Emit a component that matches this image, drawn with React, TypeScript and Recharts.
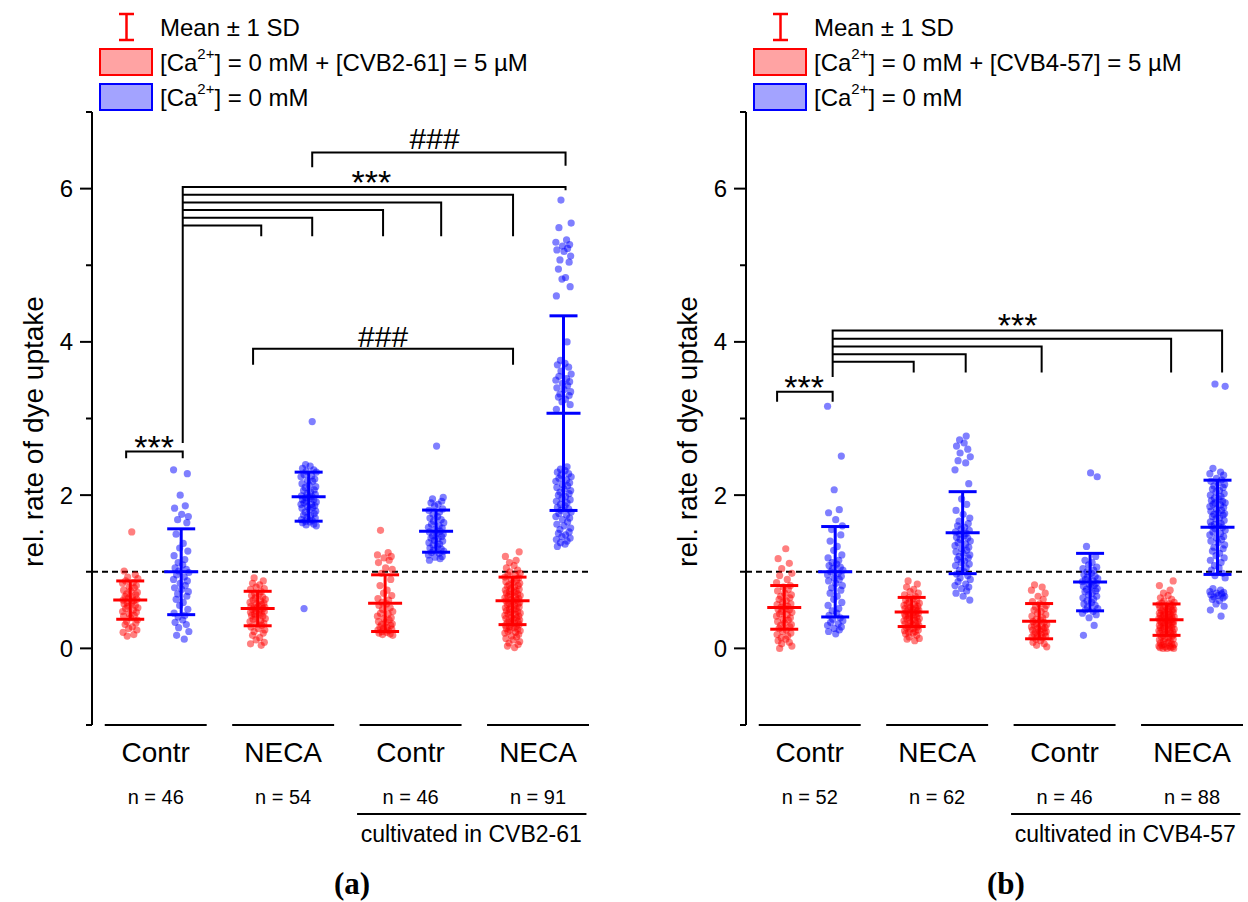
import React from 'react';
import {
  ErrorBar,
  Legend,
  ReferenceDot,
  ReferenceLine,
  Scatter,
  ScatterChart,
  XAxis,
  YAxis,
} from 'recharts';

const SANS = '"Liberation Sans", Arial, sans-serif';
const SERIF = '"Liberation Serif", "Times New Roman", serif';
const RED = '#ff0000';
const BLUE = '#0000ff';

// x position of each column: red / blue for every group
const X_POS = [1, 2, 3.5, 4.5, 6, 7, 8.5, 9.5];
const GROUP_CENTERS = [1.5, 4, 6.5, 9];
const GROUP_LABELS = ['Contr', 'NECA', 'Contr', 'NECA'];
const GROUP_SPANS = [[0.5, 2.5], [3, 5], [5.5, 7.5], [8, 10]];
const Y_TICKS = [-1, 0, 1, 2, 3, 4, 5, 6, 7];
// horizontal scatter of the single cells inside a column
const JITTER = [0.03, -0.12, 0.1, -0.05, 0.15, -0.09, 0.06, -0.15, 0.12, -0.02, 0.08, -0.13,
  0.01, 0.14, -0.07, 0.11, -0.1, 0.04, -0.03, 0.13, -0.14, 0.07, -0.06];

// ---- panel (a): CVB2-61
const A_N = [46, 54, 46, 91];
const A_MEAN = [0.63, 1.0, 0.52, 1.98, 0.59, 1.53, 0.62, 3.07];
const A_SD = [0.25, 0.56, 0.225, 0.32, 0.37, 0.275, 0.31, 1.27];

const A_CONTR_RED = [1.52, 1.01, 0.96, 0.93, 0.91, 0.88, 0.86, 0.85, 0.82, 0.8, 0.79, 0.76, 0.75, 0.73,
  0.71, 0.7, 0.68, 0.67, 0.66, 0.64, 0.63, 0.62, 0.6, 0.59, 0.58, 0.56, 0.55, 0.53, 0.52, 0.5, 0.48,
  0.47, 0.45, 0.43, 0.42, 0.4, 0.37, 0.35, 0.33, 0.31, 0.28, 0.26, 0.24, 0.21, 0.18, 0.16];
const A_CONTR_BLUE = [2.33, 2.28, 2.0, 1.86, 1.83, 1.75, 1.72, 1.68, 1.64, 1.49, 1.37, 1.31, 1.27, 1.21,
  1.16, 1.12, 1.09, 1.05, 1.03, 1.01, 0.99, 0.96, 0.93, 0.9, 0.88, 0.85, 0.82, 0.79, 0.77, 0.74, 0.71,
  0.68, 0.64, 0.6, 0.56, 0.51, 0.46, 0.43, 0.41, 0.37, 0.34, 0.31, 0.27, 0.22, 0.17, 0.12];
const A_NECA_RED = [0.92, 0.88, 0.85, 0.83, 0.8, 0.78, 0.77, 0.74, 0.72, 0.71, 0.69, 0.67, 0.66, 0.64,
  0.63, 0.62, 0.6, 0.59, 0.58, 0.57, 0.55, 0.55, 0.54, 0.53, 0.52, 0.51, 0.5, 0.49, 0.48, 0.47, 0.46,
  0.45, 0.44, 0.43, 0.42, 0.41, 0.39, 0.38, 0.36, 0.35, 0.33, 0.32, 0.3, 0.28, 0.26, 0.24, 0.22, 0.2,
  0.17, 0.14, 0.11, 0.08, 0.06, 0.04];
const A_NECA_BLUE = [2.96, 2.4, 2.38, 2.35, 2.33, 2.31, 2.3, 2.27, 2.25, 2.24, 2.21, 2.19, 2.18, 2.15,
  2.13, 2.11, 2.1, 2.07, 2.06, 2.04, 2.02, 2.01, 1.99, 1.98, 1.97, 1.96, 1.94, 1.94, 1.92, 1.91, 1.9,
  1.88, 1.88, 1.86, 1.85, 1.84, 1.83, 1.81, 1.79, 1.78, 1.76, 1.74, 1.73, 1.71, 1.7, 1.68, 1.67, 1.66,
  1.65, 1.64, 1.62, 1.61, 1.6, 0.52];
const A_CV_CONTR_RED = [1.54, 1.25, 1.22, 1.2, 1.18, 1.15, 1.12, 1.05, 1.03, 0.98, 0.9, 0.82, 0.76,
  0.72, 0.69, 0.65, 0.63, 0.6, 0.58, 0.56, 0.53, 0.51, 0.48, 0.46, 0.45, 0.42, 0.4, 0.39, 0.37, 0.35,
  0.34, 0.32, 0.31, 0.3, 0.28, 0.27, 0.26, 0.25, 0.24, 0.23, 0.22, 0.21, 0.2, 0.19, 0.18, 0.17];
const A_CV_CONTR_BLUE = [2.64, 1.97, 1.95, 1.92, 1.9, 1.88, 1.86, 1.82, 1.8, 1.78, 1.75, 1.72, 1.7,
  1.68, 1.66, 1.64, 1.62, 1.6, 1.58, 1.57, 1.55, 1.53, 1.52, 1.5, 1.49, 1.47, 1.46, 1.44, 1.43, 1.41,
  1.4, 1.38, 1.36, 1.35, 1.33, 1.31, 1.3, 1.28, 1.27, 1.25, 1.24, 1.22, 1.2, 1.19, 1.17, 1.15];
const A_CV_NECA_RED = [1.26, 1.2, 1.15, 1.12, 1.08, 1.05, 1.02, 1.0, 0.98, 0.96, 0.95, 0.93, 0.92, 0.9,
  0.89, 0.87, 0.86, 0.85, 0.83, 0.82, 0.81, 0.8, 0.78, 0.77, 0.76, 0.75, 0.74, 0.73, 0.72, 0.71, 0.7,
  0.69, 0.68, 0.67, 0.66, 0.65, 0.64, 0.63, 0.62, 0.61, 0.6, 0.59, 0.58, 0.57, 0.56, 0.55, 0.54, 0.53,
  0.52, 0.51, 0.5, 0.49, 0.48, 0.47, 0.46, 0.45, 0.44, 0.43, 0.42, 0.41, 0.4, 0.39, 0.38, 0.37, 0.36,
  0.35, 0.34, 0.33, 0.32, 0.31, 0.3, 0.29, 0.28, 0.27, 0.26, 0.25, 0.24, 0.23, 0.22, 0.21, 0.2, 0.18,
  0.16, 0.15, 0.13, 0.11, 0.09, 0.07, 0.05, 0.03, 0.01];
const A_CV_NECA_BLUE = [5.85, 5.55, 5.49, 5.33, 5.3, 5.27, 5.25, 5.22, 5.2, 5.18, 5.12, 5.07, 5.04,
  4.95, 4.84, 4.82, 4.72, 4.6, 4.0, 3.76, 3.72, 3.7, 3.67, 3.62, 3.58, 3.55, 3.52, 3.5, 3.48, 3.46,
  3.43, 3.4, 3.38, 3.35, 3.32, 3.3, 3.28, 3.25, 3.22, 3.18, 3.12, 2.37, 2.34, 2.32, 2.3, 2.28, 2.26,
  2.24, 2.22, 2.2, 2.18, 2.16, 2.14, 2.12, 2.1, 2.08, 2.06, 2.04, 2.02, 2.0, 1.98, 1.96, 1.94, 1.92,
  1.9, 1.88, 1.86, 1.84, 1.82, 1.8, 1.78, 1.76, 1.74, 1.72, 1.7, 1.68, 1.65, 1.62, 1.6, 1.57, 1.55,
  1.52, 1.5, 1.48, 1.46, 1.44, 1.42, 1.4, 1.38, 1.36, 1.33];

// ---- panel (b): CVB4-57
const B_N = [52, 62, 46, 88];
const B_MEAN = [0.535, 1.0, 0.475, 1.51, 0.355, 0.865, 0.375, 1.58];
const B_SD = [0.285, 0.59, 0.19, 0.535, 0.23, 0.375, 0.205, 0.615];

const B_CONTR_RED = [1.3, 1.17, 1.11, 1.04, 0.98, 0.95, 0.9, 0.86, 0.82, 0.8, 0.77, 0.75, 0.72, 0.7,
  0.68, 0.66, 0.64, 0.62, 0.6, 0.58, 0.57, 0.55, 0.54, 0.52, 0.51, 0.5, 0.48, 0.47, 0.45, 0.44, 0.42,
  0.4, 0.38, 0.37, 0.35, 0.33, 0.31, 0.3, 0.28, 0.26, 0.24, 0.22, 0.2, 0.18, 0.16, 0.14, 0.12, 0.1,
  0.08, 0.06, 0.03, 0.0];
const B_CONTR_BLUE = [3.16, 2.51, 2.07, 1.81, 1.77, 1.68, 1.6, 1.55, 1.48, 1.4, 1.33, 1.28, 1.22, 1.18,
  1.15, 1.12, 1.1, 1.08, 1.06, 1.04, 1.02, 1.0, 0.98, 0.96, 0.94, 0.92, 0.9, 0.88, 0.85, 0.82, 0.79,
  0.76, 0.72, 0.68, 0.64, 0.6, 0.56, 0.52, 0.49, 0.46, 0.43, 0.4, 0.38, 0.36, 0.34, 0.32, 0.3, 0.28,
  0.26, 0.24, 0.22, 0.19];
const B_NECA_RED = [0.88, 0.84, 0.8, 0.77, 0.74, 0.72, 0.7, 0.68, 0.66, 0.65, 0.63, 0.62, 0.6, 0.59,
  0.58, 0.57, 0.56, 0.55, 0.54, 0.53, 0.52, 0.51, 0.5, 0.5, 0.49, 0.48, 0.47, 0.46, 0.46, 0.45, 0.44,
  0.43, 0.42, 0.42, 0.41, 0.4, 0.39, 0.38, 0.37, 0.36, 0.35, 0.34, 0.33, 0.32, 0.31, 0.3, 0.29, 0.28,
  0.27, 0.26, 0.25, 0.24, 0.23, 0.22, 0.21, 0.2, 0.19, 0.17, 0.15, 0.13, 0.12, 0.1];
const B_NECA_BLUE = [2.77, 2.72, 2.68, 2.64, 2.6, 2.55, 2.5, 2.45, 2.42, 2.33, 2.15, 1.95, 1.88, 1.8,
  1.75, 1.7, 1.66, 1.63, 1.6, 1.58, 1.56, 1.54, 1.52, 1.5, 1.49, 1.47, 1.45, 1.44, 1.42, 1.4, 1.38,
  1.36, 1.34, 1.32, 1.3, 1.28, 1.26, 1.24, 1.22, 1.2, 1.18, 1.16, 1.14, 1.12, 1.1, 1.08, 1.05, 1.02,
  1.0, 0.97, 0.95, 0.92, 0.9, 0.87, 0.84, 0.82, 0.8, 0.78, 0.75, 0.72, 0.68, 0.63];
const B_CV_CONTR_RED = [0.83, 0.8, 0.76, 0.72, 0.68, 0.64, 0.61, 0.58, 0.56, 0.54, 0.52, 0.5, 0.48,
  0.46, 0.44, 0.42, 0.4, 0.38, 0.37, 0.35, 0.34, 0.32, 0.31, 0.3, 0.29, 0.28, 0.27, 0.26, 0.25, 0.24,
  0.23, 0.22, 0.21, 0.2, 0.19, 0.18, 0.17, 0.16, 0.15, 0.14, 0.12, 0.1, 0.08, 0.06, 0.04, 0.02];
const B_CV_CONTR_BLUE = [2.29, 2.24, 1.33, 1.2, 1.15, 1.12, 1.09, 1.06, 1.04, 1.02, 1.0, 0.98, 0.96,
  0.94, 0.93, 0.91, 0.9, 0.88, 0.87, 0.85, 0.84, 0.82, 0.81, 0.8, 0.78, 0.77, 0.75, 0.74, 0.72, 0.7,
  0.68, 0.66, 0.64, 0.62, 0.6, 0.58, 0.56, 0.54, 0.52, 0.5, 0.48, 0.46, 0.44, 0.4, 0.3, 0.17];
const B_CV_NECA_RED = [0.88, 0.82, 0.76, 0.72, 0.69, 0.66, 0.64, 0.62, 0.6, 0.59, 0.58, 0.57, 0.56,
  0.55, 0.54, 0.53, 0.52, 0.51, 0.5, 0.5, 0.49, 0.48, 0.47, 0.47, 0.46, 0.45, 0.44, 0.44, 0.43, 0.42,
  0.42, 0.41, 0.4, 0.4, 0.39, 0.38, 0.38, 0.37, 0.36, 0.36, 0.35, 0.34, 0.34, 0.33, 0.32, 0.32, 0.31,
  0.3, 0.3, 0.29, 0.28, 0.27, 0.27, 0.26, 0.25, 0.24, 0.24, 0.23, 0.22, 0.21, 0.2, 0.2, 0.19, 0.18,
  0.17, 0.16, 0.15, 0.14, 0.13, 0.12, 0.11, 0.1, 0.09, 0.08, 0.07, 0.06, 0.05, 0.05, 0.04, 0.03, 0.03,
  0.02, 0.02, 0.01, 0.01, 0.0, 0.0, 0.0];
const B_CV_NECA_BLUE = [3.45, 3.42, 2.35, 2.3, 2.28, 2.26, 2.22, 2.2, 2.18, 2.16, 2.14, 2.12, 2.1, 2.08,
  2.06, 2.04, 2.02, 2.0, 1.98, 1.96, 1.95, 1.93, 1.92, 1.9, 1.9, 1.88, 1.87, 1.85, 1.84, 1.82, 1.8,
  1.79, 1.77, 1.76, 1.75, 1.74, 1.72, 1.7, 1.69, 1.67, 1.65, 1.63, 1.62, 1.6, 1.6, 1.58, 1.56, 1.54,
  1.52, 1.5, 1.48, 1.46, 1.44, 1.42, 1.4, 1.38, 1.35, 1.32, 1.3, 1.27, 1.24, 1.21, 1.18, 1.15, 1.12,
  1.08, 1.05, 1.02, 0.98, 0.95, 0.92, 0.78, 0.76, 0.74, 0.73, 0.72, 0.71, 0.7, 0.69, 0.68, 0.67, 0.66,
  0.64, 0.62, 0.58, 0.55, 0.5, 0.42];

// significance brackets, as polylines in data units
const A_BRACKETS = [
  [[4.57, 6.28], [4.57, 6.47], [9.54, 6.47], [9.54, 6.3]],
  [[2.03, 2.68], [2.03, 6.02], [9.54, 6.02], [9.54, 5.98]],
  [[2.03, 5.92], [8.51, 5.92], [8.51, 5.38]],
  [[2.03, 5.82], [7.1, 5.82], [7.1, 5.38]],
  [[2.03, 5.72], [5.96, 5.72], [5.96, 5.38]],
  [[2.03, 5.62], [4.57, 5.62], [4.57, 5.38]],
  [[2.03, 5.52], [3.57, 5.52], [3.57, 5.38]],
  [[3.41, 3.7], [3.41, 3.91], [8.51, 3.91], [8.51, 3.7]],
  [[0.92, 2.48], [0.92, 2.57], [2.03, 2.57], [2.03, 2.48]],
];
const A_MARKS = [
  { x: 6.97, y: 6.515, text: '###', size: 30 },
  { x: 5.73, y: 5.93, text: '***', size: 34 },
  { x: 5.96, y: 3.935, text: '###', size: 30 },
  { x: 1.47, y: 2.47, text: '***', size: 34 },
];
const B_BRACKETS = [
  [[1.95, 3.54], [1.95, 4.147], [9.59, 4.147], [9.59, 3.6]],
  [[1.95, 4.04], [8.59, 4.04], [8.59, 3.6]],
  [[1.95, 3.94], [6.05, 3.94], [6.05, 3.6]],
  [[1.95, 3.84], [4.56, 3.84], [4.56, 3.6]],
  [[1.95, 3.74], [3.54, 3.74], [3.54, 3.6]],
  [[0.86, 3.22], [0.86, 3.35], [1.95, 3.35], [1.95, 3.22]],
];
const B_MARKS = [
  { x: 5.58, y: 4.07, text: '***', size: 34 },
  { x: 1.39, y: 3.26, text: '***', size: 34 },
];

const RED_COLS = [0, 2, 4, 6];
const BLUE_COLS = [1, 3, 5, 7];

const dot = (color: string) => (p: any) => (
  <circle cx={p.cx} cy={p.cy} r={3.6} fill={color} fillOpacity={0.5} stroke="none" />
);

const meanLine = (color: string) => (p: any) => (
  <line x1={p.cx - 17} x2={p.cx + 17} y1={p.cy} y2={p.cy} stroke={color} strokeWidth={3} />
);

const NoShape = () => <g />;

const ValueTick = (props: any) => {
  const { x, y, payload } = props;
  const major = payload.value % 2 === 0;
  return (
    <g>
      <line x1={x - (major ? 12 : 6)} x2={x} y1={y} y2={y} stroke="#000" strokeWidth={2} />
      {major && (
        <text x={x - 19} y={y} textAnchor="end" dominantBaseline="central" fontSize={24} fontFamily={SANS} fill="#000">
          {payload.value}
        </text>
      )}
    </g>
  );
};

const GroupTick = (props: any) => {
  const { x, y, payload, ns } = props;
  const i = GROUP_CENTERS.indexOf(payload.value);
  return (
    <g fontFamily={SANS} fill="#000" textAnchor="middle">
      <text x={x} y={y + 27} dominantBaseline="central" fontSize={28}>{GROUP_LABELS[i]}</text>
      <text x={x} y={y + 72} dominantBaseline="central" fontSize={20}>{`n = ${ns[i]}`}</text>
    </g>
  );
};

const AxisTitle = (props: any) => {
  const vb = props.viewBox || { x: 10, y: 112, width: 82, height: 613 };
  const cx = vb.x + 23;
  const cy = vb.y + vb.height / 2 + 13;
  return (
    <text x={cx} y={cy} transform={`rotate(-90 ${cx} ${cy})`} textAnchor="middle" dominantBaseline="central"
      fontSize={28} fontFamily={SANS} fill="#000">
      rel. rate of dye uptake
    </text>
  );
};

const LegendBox = ({ drug }: { drug: string }) => (
  <svg width={580} height={118} style={{ display: 'block' }} fontFamily={SANS}>
    <g stroke={RED} strokeWidth={2.5}>
      <line x1={126.5} x2={126.5} y1={14} y2={40} />
      <line x1={119} x2={134} y1={14} y2={14} />
      <line x1={119} x2={134} y1={40} y2={40} />
    </g>
    <text x={160} y={27} dominantBaseline="central" fontSize={24} fill="#000">Mean ± 1 SD</text>
    <rect x={100} y={49} width={52} height={26} fill="rgba(255,0,0,0.36)" stroke={RED} strokeWidth={2} />
    <text x={160} y={62} dominantBaseline="central" fontSize={24} fill="#000">
      [Ca<tspan dy={-9} fontSize={15}>2+</tspan><tspan dy={9}>{`] = 0 mM + [${drug}] = 5 \u00b5M`}</tspan>
    </text>
    <rect x={100} y={84} width={52} height={26} fill="rgba(0,0,255,0.36)" stroke={BLUE} strokeWidth={2} />
    <text x={160} y={97} dominantBaseline="central" fontSize={24} fill="#000">
      [Ca<tspan dy={-9} fontSize={15}>2+</tspan><tspan dy={9}>] = 0 mM</tspan>
    </text>
  </svg>
);

interface PanelProps {
  width: number;
  series: number[][];
  means: number[];
  sds: number[];
  ns: number[];
  brackets: number[][][];
  marks: { x: number; y: number; text: string; size: number }[];
  drug: string;
  letter: string;
}

const Panel = ({ width, series, means, sds, ns, brackets, marks, drug, letter }: PanelProps) => {
  const points = (cols: number[]) =>
    cols.flatMap((i) =>
      series[i].map((y, j) => ({ x: X_POS[i] + JITTER[(j + i * 7) % JITTER.length], y })),
    );
  const summary = (cols: number[]) => cols.map((i) => ({ x: X_POS[i], y: means[i], sd: sds[i] }));

  return (
    <ScatterChart width={width} height={902} margin={{ top: 112, right: width - 589, bottom: 137, left: 10 }}>
      <XAxis
        type="number"
        dataKey="x"
        domain={[0.25, 10]}
        ticks={GROUP_CENTERS}
        interval={0}
        allowDataOverflow
        axisLine={false}
        tickLine={false}
        tickSize={0}
        tickMargin={0}
        height={40}
        tick={<GroupTick ns={ns} />}
      />
      <YAxis
        type="number"
        dataKey="y"
        domain={[-1, 7]}
        ticks={Y_TICKS}
        interval={0}
        allowDataOverflow
        width={82}
        axisLine={{ stroke: '#000', strokeWidth: 2 }}
        tickLine={false}
        tickSize={0}
        tickMargin={0}
        tick={<ValueTick />}
        label={<AxisTitle />}
      />
      <Legend
        layout="vertical"
        align="center"
        verticalAlign="middle"
        wrapperStyle={{ top: 0, left: 0, width: 580, height: 118 }}
        content={() => <LegendBox drug={drug} />}
      />

      {GROUP_SPANS.map(([a, b]) => (
        <ReferenceLine key={a} segment={[{ x: a, y: -1 }, { x: b, y: -1 }]} stroke="#000" strokeWidth={2} ifOverflow="visible" />
      ))}
      <ReferenceLine segment={[{ x: 5.45, y: -2.16 }, { x: 9.95, y: -2.16 }]} stroke="#000" strokeWidth={2} ifOverflow="visible" />

      <Scatter data={points(RED_COLS)} shape={dot(RED)} isAnimationActive={false} />
      <Scatter data={points(BLUE_COLS)} shape={dot(BLUE)} isAnimationActive={false} />

      <ReferenceLine y={1} stroke="#000" strokeWidth={2} strokeDasharray="6 4" />

      <Scatter data={summary(RED_COLS)} shape={meanLine(RED)} isAnimationActive={false}>
        <ErrorBar dataKey="sd" direction="y" width={14} stroke={RED} strokeWidth={3} />
      </Scatter>
      <Scatter data={summary(BLUE_COLS)} shape={meanLine(BLUE)} isAnimationActive={false}>
        <ErrorBar dataKey="sd" direction="y" width={14} stroke={BLUE} strokeWidth={3} />
      </Scatter>

      {brackets.map((b, k) => (
        <Scatter
          key={`br${k}`}
          data={b.map(([x, y]) => ({ x, y }))}
          line={{ stroke: '#000', strokeWidth: 2 }}
          shape={<NoShape />}
          isAnimationActive={false}
        />
      ))}

      {marks.map((m, k) => (
        <ReferenceDot
          key={`mk${k}`}
          x={m.x}
          y={m.y}
          r={0}
          ifOverflow="visible"
          shape={(p: any) => (
            <text x={p.cx} y={p.cy} textAnchor="middle" fontSize={m.size} fontFamily={SANS} fill="#000">
              {m.text}
            </text>
          )}
        />
      ))}

      <ReferenceDot
        x={7.69}
        y={-2.42}
        r={0}
        ifOverflow="visible"
        shape={(p: any) => (
          <text x={p.cx} y={p.cy} textAnchor="middle" dominantBaseline="central" fontSize={23} fontFamily={SANS} fill="#000">
            {`cultivated in ${drug}`}
          </text>
        )}
      />
      <ReferenceDot
        x={5.35}
        y={-3.07}
        r={0}
        ifOverflow="visible"
        shape={(p: any) => (
          <text x={p.cx} y={p.cy} textAnchor="middle" dominantBaseline="central" fontSize={31} fontWeight="bold" fontFamily={SERIF} fill="#000">
            {`(${letter})`}
          </text>
        )}
      />
    </ScatterChart>
  );
};

export default function App() {
  return (
    <div style={{ position: 'absolute', left: 0, top: 0, width: 1248, height: 902, overflow: 'hidden', background: '#fff' }}>
      <div style={{ position: 'absolute', left: 0, top: 0 }}>
        <Panel
          width={624}
          series={[A_CONTR_RED, A_CONTR_BLUE, A_NECA_RED, A_NECA_BLUE, A_CV_CONTR_RED, A_CV_CONTR_BLUE, A_CV_NECA_RED, A_CV_NECA_BLUE]}
          means={A_MEAN}
          sds={A_SD}
          ns={A_N}
          brackets={A_BRACKETS}
          marks={A_MARKS}
          drug="CVB2-61"
          letter="a"
        />
      </div>
      <div style={{ position: 'absolute', left: 654, top: 0 }}>
        <Panel
          width={594}
          series={[B_CONTR_RED, B_CONTR_BLUE, B_NECA_RED, B_NECA_BLUE, B_CV_CONTR_RED, B_CV_CONTR_BLUE, B_CV_NECA_RED, B_CV_NECA_BLUE]}
          means={B_MEAN}
          sds={B_SD}
          ns={B_N}
          brackets={B_BRACKETS}
          marks={B_MARKS}
          drug="CVB4-57"
          letter="b"
        />
      </div>
    </div>
  );
}
